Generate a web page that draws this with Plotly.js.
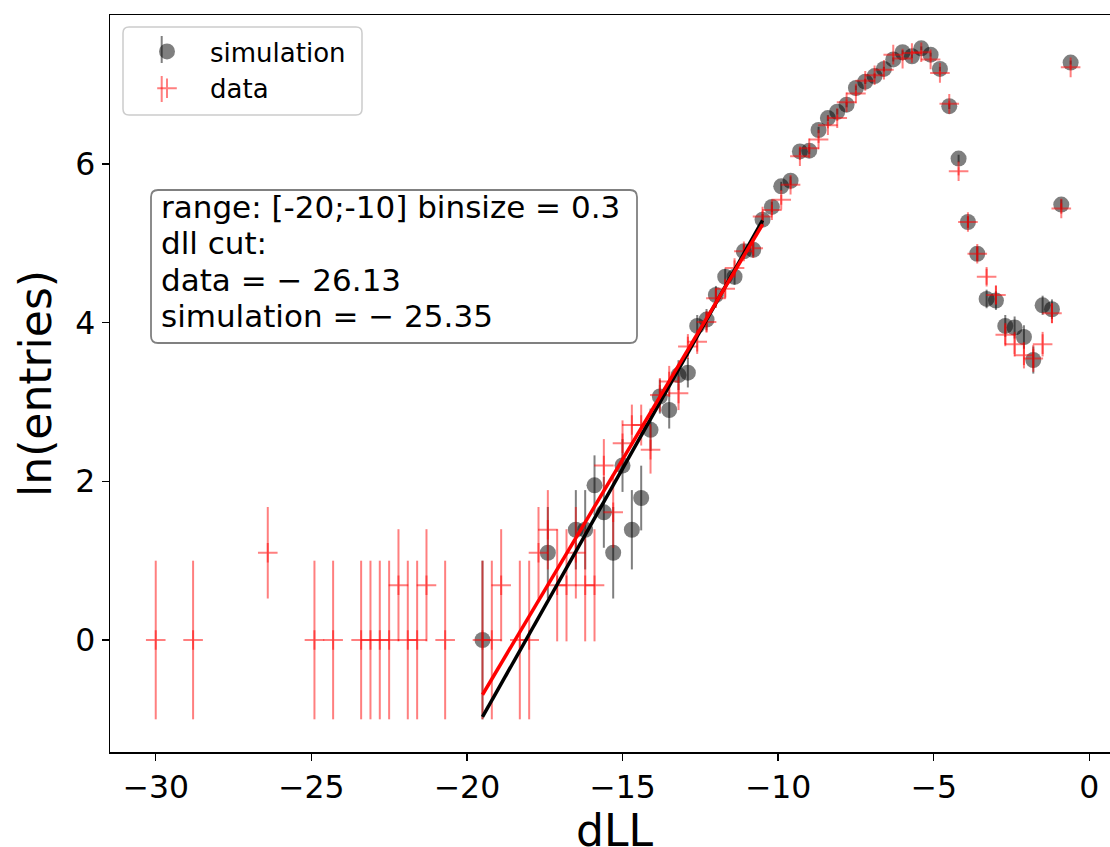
<!DOCTYPE html>
<html>
<head>
<meta charset="utf-8">
<script src="https://cdn.plot.ly/plotly-3.0.1.min.js"></script>
<style>
html, body { margin: 0; padding: 0; overflow: hidden; background: #fff; }
#chart { width: 1120px; height: 847px; }
</style>
</head>
<body>
<div id="chart"></div>
<script>
// ---- data ----
const simX = [-19.5, -17.4, -16.5, -16.2, -15.9, -15.6, -15.3, -15.0, -14.7, -14.4, -14.1, -13.8, -13.5, -13.2, -12.9, -12.6, -12.3, -12.0, -11.7, -11.4, -11.1, -10.8, -10.5, -10.2, -9.9, -9.6, -9.3, -9.0, -8.7, -8.4, -8.1, -7.8, -7.5, -7.2, -6.9, -6.6, -6.3, -6.0, -5.7, -5.4, -5.1, -4.8, -4.5, -4.2, -3.9, -3.6, -3.3, -3.0, -2.7, -2.4, -2.1, -1.8, -1.5, -1.2, -0.9, -0.6];
const simY = [0, 1.1, 1.39, 1.39, 1.95, 1.61, 1.1, 2.2, 1.39, 1.79, 2.65, 3.07, 2.90, 3.34, 3.37, 3.96, 4.04, 4.35, 4.58, 4.58, 4.90, 4.92, 5.30, 5.46, 5.72, 5.79, 6.16, 6.17, 6.43, 6.58, 6.66, 6.75, 6.96, 7.04, 7.11, 7.20, 7.32, 7.41, 7.36, 7.46, 7.38, 7.20, 6.73, 6.07, 5.27, 4.87, 4.30, 4.28, 3.96, 3.94, 3.82, 3.53, 4.22, 4.17, 5.49, 7.28];
const simErr = [1.0, 0.577, 0.5, 0.5, 0.378, 0.447, 0.577, 0.333, 0.5, 0.408, 0.267, 0.215, 0.234, 0.188, 0.186, 0.138, 0.133, 0.114, 0.101, 0.101, 0.086, 0.085, 0.071, 0.065, 0.057, 0.055, 0.046, 0.046, 0.040, 0.037, 0.036, 0.034, 0.031, 0.030, 0.029, 0.027, 0.026, 0.025, 0.025, 0.024, 0.025, 0.027, 0.035, 0.048, 0.072, 0.088, 0.117, 0.118, 0.138, 0.139, 0.148, 0.171, 0.121, 0.124, 0.064, 0.026];

const dataX = [-30.0, -28.8, -26.4, -24.9, -24.3, -23.4, -23.1, -22.8, -22.5, -22.2, -21.9, -21.6, -21.3, -20.7, -19.5, -19.2, -18.9, -18.3, -18.0, -17.7, -17.4, -17.1, -16.8, -16.5, -16.2, -15.9, -15.6, -15.3, -15.0, -14.7, -14.4, -14.1, -13.8, -13.5, -13.2, -12.9, -12.6, -12.3, -12.0, -11.7, -11.4, -11.1, -10.8, -10.5, -10.2, -9.9, -9.6, -9.3, -9.0, -8.7, -8.4, -8.1, -7.8, -7.5, -7.2, -6.9, -6.6, -6.3, -6.0, -5.7, -5.4, -5.1, -4.8, -4.5, -4.2, -3.9, -3.6, -3.3, -3.0, -2.7, -2.4, -2.1, -1.8, -1.5, -1.2, -0.9, -0.6];
const dataY = [0, 0, 1.1, 0, 0, 0, 0, 0, 0, 0.69, 0, 0, 0.69, 0, 0, 0, 0.69, 0, 0, 1.1, 1.39, 0.69, 0.69, 1.1, 0.69, 0.69, 2.2, 1.61, 2.48, 2.71, 2.71, 2.40, 3.09, 3.26, 3.11, 3.70, 3.76, 4.01, 4.31, 4.43, 4.69, 4.90, 4.94, 5.34, 5.42, 5.55, 5.74, 6.10, 6.20, 6.31, 6.49, 6.58, 6.78, 6.89, 7.05, 7.12, 7.19, 7.38, 7.33, 7.40, 7.41, 7.32, 7.15, 6.76, 5.91, 5.27, 4.87, 4.58, 4.35, 3.85, 3.73, 3.59, 3.55, 3.73, 4.12, 5.44, 7.22];
const dataErr = [1, 1, 0.577, 1, 1, 1, 1, 1, 1, 0.707, 1, 1, 0.707, 1, 1, 1, 0.707, 1, 1, 0.577, 0.5, 0.707, 0.707, 0.577, 0.707, 0.707, 0.333, 0.447, 0.289, 0.258, 0.258, 0.302, 0.213, 0.196, 0.211, 0.157, 0.153, 0.135, 0.116, 0.109, 0.096, 0.086, 0.085, 0.069, 0.067, 0.062, 0.057, 0.047, 0.045, 0.043, 0.039, 0.037, 0.034, 0.032, 0.029, 0.028, 0.027, 0.025, 0.026, 0.025, 0.025, 0.026, 0.028, 0.034, 0.052, 0.072, 0.088, 0.101, 0.114, 0.146, 0.155, 0.166, 0.169, 0.155, 0.127, 0.066, 0.027];

const fitX = [-19.5, -10.5];
const fitSimY = [-0.97, 5.29];
const fitDataY = [-0.69, 5.24];

const xTickVals = [-30, -25, -20, -15, -10, -5, 0];
const xTickText = ['\u221230', '\u221225', '\u221220', '\u221215', '\u221210', '\u22125', '0'];
const yTickVals = [0, 2, 4, 6];
const yTickText = ['0', '2', '4', '6'];

const seriesNames = ['simulation', 'data'];
const xTitle = 'dLL';
const yTitle = 'ln(entries)';
const infoLines = [
  'range: [-20;-10] binsize = 0.3',
  'dll cut:',
  'data = \u2212 26.13',
  'simulation = \u2212 25.35'
];

// ---- geometry (pixels) ----
const W = 1120, H = 847;
const M = { l: 110, r: 4, t: 15, b: 95 };
const PW = W - M.l - M.r, PH = H - M.t - M.b;
const fx = px => (px - M.l) / PW;
const fy = py => 1 - (py - M.t) / PH;

const FONT = 'DejaVu Sans, Liberation Sans, sans-serif';

const traces = [
  {
    x: simX, y: simY, type: 'scatter', mode: 'markers', name: seriesNames[0],
    marker: { symbol: 'circle', size: 16, color: 'rgba(0,0,0,0.5)', line: { width: 0 } },
    error_y: { type: 'data', array: simErr, visible: true, color: 'rgba(0,0,0,0.5)', thickness: 2, width: 0 }
  },
  {
    x: dataX, y: dataY, type: 'scatter', mode: 'markers', name: seriesNames[1],
    marker: { symbol: 'cross-thin', size: 14, color: 'rgba(255,0,0,0.5)', line: { width: 2, color: 'rgba(255,0,0,0.5)' } },
    error_y: { type: 'data', array: dataErr, visible: true, color: 'rgba(255,0,0,0.5)', thickness: 2, width: 0 }
  },
  {
    x: fitX, y: fitSimY, type: 'scatter', mode: 'lines', showlegend: false,
    line: { color: '#000000', width: 3.5 }
  },
  {
    x: fitX, y: fitDataY, type: 'scatter', mode: 'lines', showlegend: false,
    line: { color: '#ff0000', width: 3.5 }
  }
];

function roundRect(x0, y0, x1, y1, r) {
  return [
    'M', fx(x0 + r), fy(y0),
    'L', fx(x1 - r), fy(y0),
    'Q', fx(x1), fy(y0), fx(x1), fy(y0 + r),
    'L', fx(x1), fy(y1 - r),
    'Q', fx(x1), fy(y1), fx(x1 - r), fy(y1),
    'L', fx(x0 + r), fy(y1),
    'Q', fx(x0), fy(y1), fx(x0), fy(y1 - r),
    'L', fx(x0), fy(y0 + r),
    'Q', fx(x0), fy(y0), fx(x0 + r), fy(y0), 'Z'
  ].join(' ');
}

const lineCenters = [207.5, 243.5, 279.5, 315.5];
const annotations = infoLines.map((t, i) => ({
  xref: 'paper', yref: 'paper', x: fx(159), y: fy(lineCenters[i]),
  xanchor: 'left', yanchor: 'middle', showarrow: false, text: t,
  font: { family: FONT, size: 31, color: '#000' }
}));
annotations.push({
  xref: 'paper', yref: 'paper', x: fx(614), y: fy(830),
  xanchor: 'center', yanchor: 'middle', showarrow: false, text: xTitle,
  font: { family: FONT, size: 44, color: '#000' }
});

const layout = {
  width: W, height: H,
  margin: M,
  paper_bgcolor: '#fff', plot_bgcolor: '#fff',
  font: { family: FONT, color: '#000' },
  showlegend: true,
  legend: {
    x: fx(124), y: fy(28), xanchor: 'left', yanchor: 'top',
    bgcolor: 'rgba(0,0,0,0)', borderwidth: 0,
    font: { family: FONT, size: 26, color: '#000' },
    itemwidth: 76
  },
  xaxis: {
    range: [-31.47, 0.858], autorange: false,
    tickvals: xTickVals, ticktext: xTickText,
    ticks: 'outside', ticklen: 7, tickwidth: 1.5, tickcolor: '#000',
    showline: true, linecolor: '#000', linewidth: 1.5, mirror: true,
    showgrid: false, zeroline: false,
    tickfont: { family: FONT, size: 31.5, color: '#000' }
  },
  yaxis: {
    range: [-1.412, 7.88], autorange: false,
    tickvals: yTickVals, ticktext: yTickText,
    ticks: 'outside', ticklen: 7, tickwidth: 1.5, tickcolor: '#000',
    showline: true, linecolor: '#000', linewidth: 1.5, mirror: true,
    showgrid: false, zeroline: false,
    tickfont: { family: FONT, size: 31.5, color: '#000' },
    title: { text: yTitle, font: { family: FONT, size: 44, color: '#000' }, standoff: 10 }
  },
  shapes: [
    { // legend frame
      type: 'path', xref: 'paper', yref: 'paper', path: roundRect(123, 27, 362, 115, 6),
      fillcolor: 'rgba(255,255,255,0.8)', line: { color: '#cccccc', width: 1.5 }, layer: 'above'
    },
    { // legend error bar of the simulation entry
      type: 'line', xref: 'paper', yref: 'paper', x0: fx(161.7), x1: fx(161.7), y0: fy(36), y1: fy(63),
      line: { color: 'rgba(0,0,0,0.5)', width: 2 }, layer: 'above'
    },
    { // legend error bar of the data entry
      type: 'line', xref: 'paper', yref: 'paper', x0: fx(161.7), x1: fx(161.7), y0: fy(76), y1: fy(102),
      line: { color: 'rgba(255,0,0,0.5)', width: 2 }, layer: 'above'
    },
    { // info box frame
      type: 'path', xref: 'paper', yref: 'paper', path: roundRect(151, 190, 637, 343, 7),
      fillcolor: 'rgba(255,255,255,0.5)', line: { color: '#808080', width: 1.8 }, layer: 'above'
    }
  ],
  annotations: annotations
};

Plotly.newPlot('chart', traces, layout, { staticPlot: true, displayModeBar: false });
</script>
</body>
</html>
